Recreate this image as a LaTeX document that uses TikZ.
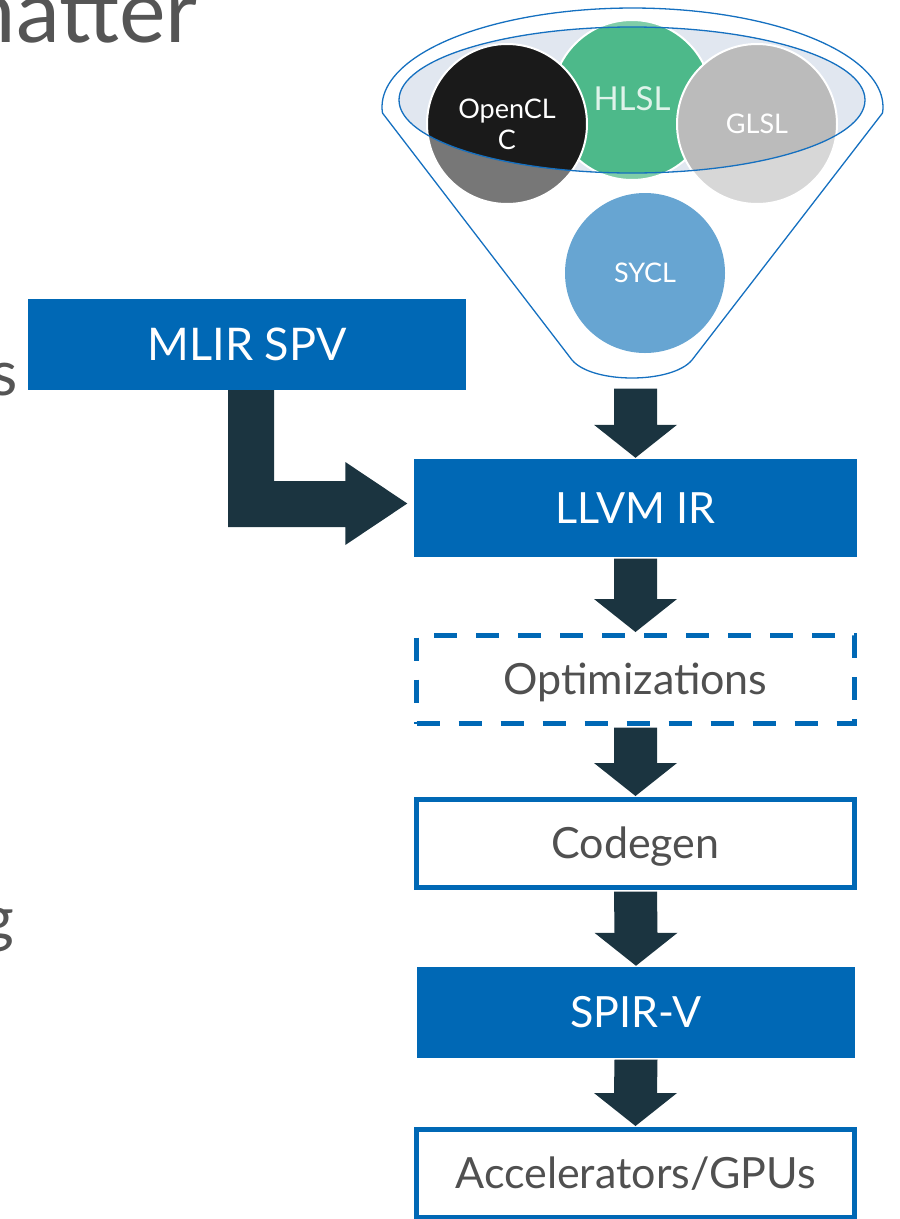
\documentclass[tikz,border=0pt]{standalone}
\usepackage{fontspec}
\setmainfont{Lato}
\usetikzlibrary{calc}
\definecolor{iblue}{HTML}{0068B5}
\definecolor{arrowc}{HTML}{1B3440}
\definecolor{txtgray}{HTML}{505050}
\definecolor{titlegray}{HTML}{555555}
\definecolor{ellfill}{HTML}{E1E7F0}
\definecolor{funnelblue}{HTML}{1570C0}
\definecolor{oclin}{HTML}{1A1A1A}
\definecolor{oclout}{HTML}{777777}
\definecolor{hlslin}{HTML}{4DB98A}
\definecolor{hlslout}{HTML}{7FCDA8}
\definecolor{glslin}{HTML}{BBBBBB}
\definecolor{glslout}{HTML}{D7D7D7}
\definecolor{syclc}{HTML}{67A5D2}
\newcommand\blockdown[2]{\fill[arrowc] ($(#1)+(-21.5,1.5)$) -- ($(#1)+(21.5,1.5)$) -- ($(#2)+(21.5,-34)$) -- ($(#2)+(41.5,-34)$) -- ($(#2)+(0,-1)$) -- ($(#2)+(-41.5,-34)$) -- ($(#2)+(-21.5,-34)$) -- cycle;}
\begin{document}
\begin{tikzpicture}[x=1pt,y=-1pt,
  boxfont/.style={font=\fontsize{43}{50}\selectfont, text height=30.5pt, text depth=0pt},
  filledbox/.style={boxfont, fill=iblue, text=white, inner sep=0pt},
  outbox/.style={boxfont, draw=iblue, line width=5pt, text=txtgray, inner sep=0pt, minimum width=438pt, minimum height=88pt},
  dashbox/.style={outbox, dash pattern=on 23pt off 19pt},
  circfont/.style={font=\fontsize{27}{31}\selectfont, text=white, align=center},
  lang/.style={circle, minimum size=160pt, inner sep=0pt, draw=white, line width=2pt, circfont},
  innerpart/.style={path picture={\fill[#1] (ellc) ellipse [x radius=233pt, y radius=73pt];}},
  bodytext/.style={font=\fontsize{63}{70}\selectfont, text=titlegray, inner sep=0pt, anchor=base east}
]
\useasboundingbox (0,0) rectangle (900,1219);

% fragments of slide text
\node[font=\fontsize{88}{90}\selectfont, text=titlegray, inner sep=0pt, anchor=base east] (title) at (198,42) {matter};
\node[bodytext] (frag1) at (18,395) {s};
\node[bodytext] (frag2) at (14,940) {g};

% funnel
\draw[funnelblue, line width=1.3pt] plot[domain=183.5:-3.5, samples=90] ({632.5+250.5*cos(\x)},{107-99*sin(\x)}) -- (692,360) .. controls (672,384) and (592,384) .. (572,360) -- cycle;
\coordinate (ellc) at (632,100);
\fill[ellfill] (ellc) ellipse [x radius=233pt, y radius=73pt];

\node[lang, fill=hlslout, innerpart=hlslin, font=\fontsize{33}{36}\selectfont, text=white!82!hlslin] (hlsl) at (632,100) {\raisebox{3pt}{HLSL}};
\node[lang, fill=oclout, innerpart=oclin] (ocl) at (507,124) {OpenCL\\C};
\node[lang, fill=glslout, innerpart=glslin] (glsl) at (757,124) {GLSL};
\node[lang, fill=syclc, draw=none] (sycl) at (645,273) {SYCL};

\draw[funnelblue, line width=1.3pt] (ellc) ellipse [x radius=233pt, y radius=73pt];
\coordinate (fout) at (635.5,387);

% boxes
\node[filledbox, minimum width=438pt, minimum height=91pt, font=\fontsize{45}{50}\selectfont, text height=32pt] (mlir) at (247,344.5) {MLIR SPV};
\node[filledbox, minimum width=443pt, minimum height=98pt] (llvm) at (635.5,508) {LLVM IR};
\node[dashbox] (opt) at (635.5,679.5) {Optimizations};
\node[outbox] (cg) at (635.5,843.5) {Codegen};
\node[filledbox, minimum width=438pt, minimum height=91pt] (spirv) at (636,1012.5) {SPIR-V};
\node[outbox] (acc) at (635.5,1173.5) {Accelerators/GPUs};

% block arrows
\blockdown{fout}{llvm.north}
\blockdown{llvm.south}{opt.north}
\blockdown{opt.south}{cg.north}
\blockdown{cg.south}{spirv.north}
\blockdown{spirv.south}{acc.north}

% elbow arrow MLIR -> LLVM
\fill[arrowc] ($(mlir.south)+(-19,0)$) -- ($(mlir.south)+(27,0)$) -- ($(mlir.south)+(27,91)$) -- ($(llvm.west)+(-68.5,-27)$) -- ($(llvm.west)+(-68.5,-46)$) -- ($(llvm.west)+(-6.5,-4.5)$) -- ($(llvm.west)+(-68.5,37)$) -- ($(llvm.west)+(-68.5,19)$) -- ($(mlir.south)+(-19,137)$) -- cycle;
\end{tikzpicture}
\end{document}
